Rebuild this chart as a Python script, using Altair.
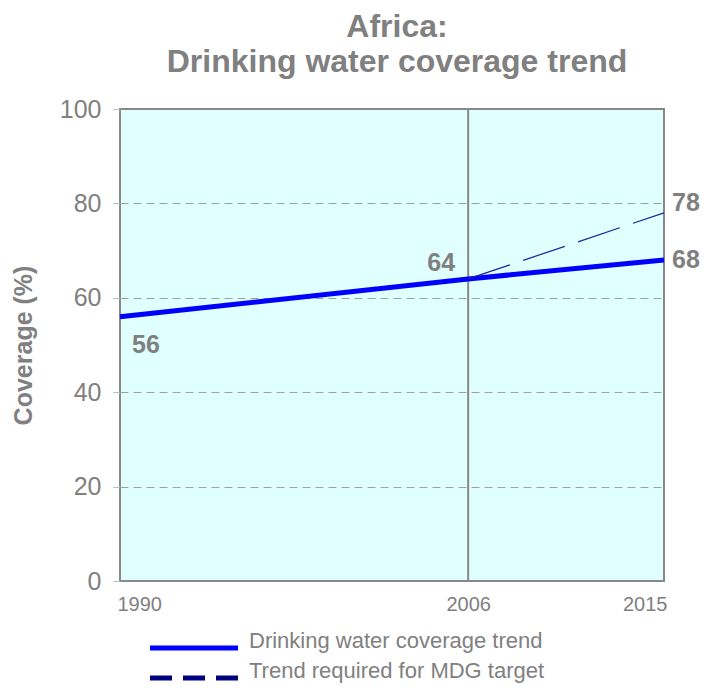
import altair as alt
import pandas as pd

# ---- data ----
years = [1990, 2006, 2015]
coverage = [56, 64, 68]
target_years = [2006, 2015]
target_coverage = [64, 78]
series_names = ["Drinking water coverage trend", "Trend required for MDG target"]
x_ticks = [1990, 2006, 2015]
y_ticks = [0, 20, 40, 60, 80, 100]
title_lines = ["Africa:", "Drinking water coverage trend"]
y_title = "Coverage (%)"
split_year = [2006]

GRAY = "#808080"
SANS = "Liberation Sans, Arial, sans-serif"

trend_df = pd.DataFrame({"year": years, "value": coverage})
target_df = pd.DataFrame({"year": target_years, "value": target_coverage})
split_df = pd.DataFrame({"year": split_year})
legend_df = pd.DataFrame({"series": series_names,
                          "year": [None] * len(series_names),
                          "value": [None] * len(series_names)})

x_enc = alt.X("year:Q",
              scale=alt.Scale(domain=[x_ticks[0], x_ticks[-1]], nice=False, zero=False),
              axis=alt.Axis(values=x_ticks, format="d", title=None, domain=False,
                            ticks=False, tickSize=0, grid=False, labelFont=SANS,
                            labelFontSize=20, labelColor=GRAY, labelPadding=13,
                            labelFlush=True, labelFlushOffset=3))
y_enc = alt.Y("value:Q",
              scale=alt.Scale(domain=[0, 100], nice=False),
              axis=alt.Axis(values=y_ticks, title=y_title, titleFont=SANS,
                            titleFontSize=25, titleFontWeight="bold", titleColor=GRAY,
                            titlePadding=23, labelFont=SANS, labelFontSize=25,
                            labelColor=GRAY, labelPadding=12, tickSize=7,
                            tickColor="#BBBBBB", domain=False, grid=True,
                            gridColor="#A0A0A0", gridDash=[8, 5], gridWidth=1,
                            gridOpacity={"condition": {"test": "datum.value == 0 || datum.value == 100", "value": 0}, "value": 1}))

split_rule = alt.Chart(split_df).mark_rule(color="#888888", strokeWidth=2).encode(x=x_enc)

trend_line = alt.Chart(trend_df).mark_line(color="#0000FF", strokeWidth=5).encode(x=x_enc, y=y_enc)
target_line = alt.Chart(target_df).mark_line(color="#2020A0", strokeWidth=1.2,
                                              strokeDash=[44, 14]).encode(x=x_enc, y=y_enc)

leg = alt.Legend(title=None, orient="none", legendX=27, legendY=528, direction="vertical",
                 symbolType="M-1.6,0H16", symbolSize=100, symbolStrokeWidth=5,
                 labelFont=SANS, labelFontSize=22, labelColor=GRAY, labelOffset=80,
                 labelLimit=600, rowPadding=2, padding=0, labelBaseline="alphabetic")
legend_layer = alt.Chart(legend_df).mark_line().encode(
    x=x_enc, y=y_enc,
    color=alt.Color("series:N", scale=alt.Scale(domain=series_names, range=["#0000FF", "#000080"]), legend=leg),
    strokeDash=alt.StrokeDash("series:N", scale=alt.Scale(domain=series_names, range=[[1, 0], [22, 11]]), legend=leg),
)

def label_layer(df, **kw):
    return alt.Chart(df).mark_text(font=SANS, fontSize=25, fontWeight="bold", color=GRAY, **kw).encode(
        x=x_enc, y=y_enc, text=alt.Text("value:Q", format="d"))

lab_start = label_layer(trend_df.iloc[[0]], dx=26, dy=28)
lab_mid = label_layer(trend_df.iloc[[1]], dx=-27, dy=-16)
lab_end = label_layer(trend_df.iloc[[2]], align="left", dx=8, dy=0)
lab_target = label_layer(target_df.iloc[[1]], align="left", dx=8, dy=-10)

chart = alt.layer(split_rule, trend_line, target_line, legend_layer,
                  lab_start, lab_mid, lab_end, lab_target).properties(
    width=544, height=472,
    title=alt.TitleParams(title_lines, font=SANS, fontSize=32, fontWeight="bold",
                          color=GRAY, lineHeight=35, anchor="middle", offset=18, dx=5),
    autosize=alt.AutoSizeParams(type="none"),
    padding={"left": 112, "top": 101, "right": 36, "bottom": 102},
).configure_view(fill="#E0FFFF", stroke="#888888", strokeWidth=2)

chart.save("out.html", embed_options={"renderer": "svg", "actions": False})
